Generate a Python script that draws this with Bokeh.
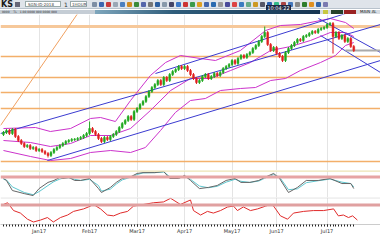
import numpy as np
from bokeh.plotting import figure
from bokeh.layouts import column
from bokeh.models import Div, Span, FixedTicker, Range1d, Grid, ColumnDataSource
from bokeh.embed import file_html
from bokeh.resources import INLINE

# ---------------- data ----------------
closes = [38, 40, 37, 41, 34, 30, 27, 24, 25, 22, 23, 20, 21, 19, 17, 15, 18, 21, 23, 25,
          27, 29, 30, 31, 31, 32, 33, 35, 37, 42, 39, 36, 32, 29, 33, 31, 34, 36, 39, 43,
          47, 50, 54, 51, 59, 62, 66, 69, 74, 79, 83, 86, 90, 86, 93, 90, 96, 99, 101, 104,
          102, 104, 100, 96, 92, 88, 90, 94, 96, 92, 94, 97, 95, 98, 102, 104, 106, 110, 107, 112,
          115, 113, 116, 118, 122, 125, 129, 134, 138, 126, 120, 123, 117, 114, 110, 118, 122, 125, 128, 131,
          130, 134, 135, 137, 139, 138, 141, 142, 143, 146, 147, 134, 138, 132, 135, 129, 132, 124, 120]
first_open = 36
extra_high = {29: 49, 88: 144}
extra_low = {15: 13, 111: 117}

band_upper_x = [0, 10.8, 15.8, 22.6, 29.3, 32.7, 37.7, 42.8, 49.5, 54.6, 59.6, 66.4, 71.4, 79.8, 88.3, 93.3, 100, 110.1, 115.2, 118]
band_upper = [42, 43, 39, 42, 52, 53, 49, 70, 95, 108, 115, 112, 110, 120, 140, 145, 146, 152, 148, 142]
band_mid_x = [0, 9.1, 15.8, 22.6, 29.3, 36.1, 42.8, 49.5, 56.3, 63.0, 69.7, 76.5, 83.2, 90.0, 96.7, 103.4, 110.1, 115.2, 118]
band_mid = [30, 28, 24, 27, 35, 35, 42, 60, 80, 92, 92, 100, 108, 120, 124, 130, 138, 138, 134]
band_lower_x = [0, 9.1, 15.8, 22.6, 29.3, 36.1, 42.8, 47.8, 52.9, 57.9, 63.0, 68.0, 73.1, 79.8, 84.9, 90.0, 95.0, 100.0, 106.8, 111.8, 115.2, 118]
band_lower = [20, 14, 10, 12, 18, 20, 18, 23, 40, 58, 70, 72, 80, 82, 83, 90, 92, 100, 108, 115, 125, 128]

levels = [114, 93, 78, 62, 9]
top_level = 144

trend_x = [[51.2, 127], [-1, 127], [14.8, 127], [106.1, 127], [106.8, 127]]
trend_y = [[97, 168], [37, 146], [10, 110], [152, 118], [135, 98]]
fan_x = [-1, 25]
fan_y = [45, 157]
mark_x = [115.2, 127]
mark_y = [120, 120]

stoch_x = [0, 1, 3, 7, 10, 12, 15, 17, 19, 20, 22, 24, 26, 29, 32, 33, 36, 38, 40, 43, 45, 47, 51, 54,
           56, 59, 61, 63, 66, 69, 72, 75, 78, 80, 83, 86, 88, 91, 93, 96, 99, 102, 106, 110, 114, 117, 118]
stoch_k = [75, 68, 32, 21, 14, 39, 61, 68, 79, 75, 79, 68, 68, 75, 39, 25, 43, 61, 75, 82, 93, 96, 96, 100,
           75, 75, 86, 68, 39, 43, 50, 68, 75, 61, 61, 68, 79, 93, 75, 25, 43, 68, 68, 75, 57, 57, 39]
stoch_d = [72, 70, 45, 25, 17, 28, 50, 64, 73, 76, 77, 72, 68, 72, 50, 30, 37, 55, 70, 80, 89, 95, 96, 98,
           82, 76, 82, 72, 48, 42, 47, 62, 72, 65, 61, 66, 76, 89, 80, 35, 38, 60, 67, 73, 62, 57, 45]

rsi_x = [0, 0.0, 1.4, 3.4, 5.7, 8.1, 10.1, 12.5, 14.8, 16.8, 19.2, 21.6, 23.6, 27.0, 29.3, 30.3, 32.7, 35.0, 37.1,
         39.4, 41.8, 43.8, 47.2, 50.5, 53.9, 56.3, 59.6, 63.0, 64.0, 66.4, 68.7, 70.7, 73.1, 75.5, 77.5, 78.8,
         80.8, 83.2, 85.6, 88.3, 89.9, 91.0, 93.3, 95.7, 97.7, 101.1, 104.4, 107.8, 111.2, 112.8, 114.5, 116.2,
         117.6, 119.2]
rsi_v = [72, 72, 78, 50, 41, 19, 9, 16, 25, 9, 25, 34, 47, 56, 66, 72, 56, 34, 31, 41, 47, 66, 72, 78, 81,
         94, 72, 88, 50, 34, 47, 41, 50, 63, 66, 50, 63, 50, 56, 66, 72, 66, 31, 19, 41, 47, 50, 50, 56, 31,
         34, 25, 31, 16]
rsi_x = rsi_x[1:]
rsi_v = rsi_v[1:]

month_ticks = [12, 29, 45, 61, 77, 92, 109]
month_labels = ["Jan17", "Feb17", "Mar17", "Apr17", "May17", "Jun17", "Jul17"]

# ---------------- derived candle table ----------------
opens = [first_open] + closes[:-1]
idx = list(range(len(closes)))
highs = [max(o, c) + 1.5 for o, c in zip(opens, closes)]
lows = [min(o, c) - 1.5 for o, c in zip(opens, closes)]
for k, v in extra_high.items():
    highs[k] = v
for k, v in extra_low.items():
    lows[k] = v
UP, DOWN = "#1fa81f", "#e02020"
colors = [UP if c >= o else DOWN for o, c in zip(opens, closes)]
tops = [max(o, c) if abs(c - o) > 0.4 else max(o, c) + 0.4 for o, c in zip(opens, closes)]
bots = [min(o, c) for o, c in zip(opens, closes)]
src = ColumnDataSource(dict(x=idx, hi=highs, lo=lows, top=tops, bot=bots, col=colors))

XR = (-1, 127)
W = 380
month_ticker = FixedTicker(ticks=month_ticks)


def base(height, yr):
    p = figure(width=W, height=height, x_range=Range1d(*XR), y_range=Range1d(*yr),
               toolbar_location=None, output_backend="svg", x_axis_location=None,
               y_axis_location=None, min_border=0)
    p.grid.visible = False
    p.outline_line_color = None
    p.background_fill_color = "white"
    p.border_fill_color = "white"
    p.add_layout(Grid(dimension=0, ticker=month_ticker, grid_line_color="#e4e4e4", grid_line_width=1))
    return p


# ---------------- toolbar ----------------
icons = ["#7d8ea4", "#3a66b0", "#c83a3a", "#9aa7b5", "#4a7fc0", "#d08a20", "#3a8a3a", "#5566aa", "#777",
         "#2d5fa0", "#8899aa", "#446", "#3c78c8", "#c33", "#3a9a4a", "#e0a020", "#4466aa", "#2a6ab0",
         "#999", "#4a4a9a", "#d44", "#3a7ac0", "#6a8", "#cc9922", "#556", "#2a5fb0", "#3b8", "#aa4444",
         "#4477bb", "#888", "#2d7d2d", "#e09020", "#3366aa", "#7a7ab0"]
icon_html = "".join(
    f'<span style="position:absolute;left:{92 + 7 * i}px;top:2px;width:5px;height:5px;background:{c};border-radius:1px"></span>'
    for i, c in enumerate(icons))
toolbar = Div(width=W, height=14, margin=0, text=f'''
<div style="position:relative;width:380px;height:14px;overflow:hidden;font-family:'DejaVu Sans',sans-serif;">
 <div style="position:absolute;left:0;top:0;width:380px;height:9px;background:#dfe4ea;border-bottom:1px solid #b8c2cc"></div>
 <span style="position:absolute;left:1px;top:0px;font-size:8px;line-height:9px;font-weight:bold;color:#1a1a1a">KS</span>
 <span style="position:absolute;left:15px;top:2px;width:5px;height:5px;background:#667"></span>
 <span style="position:absolute;left:25px;top:1px;width:36px;height:6px;background:#fff;border:1px solid #9aa;font-size:4px;line-height:6px;color:#444;padding-left:2px">SGN-ID-2018</span>
 <span style="position:absolute;left:64px;top:1px;font-size:6px;line-height:7px;color:#333">1</span>
 <span style="position:absolute;left:70px;top:1px;width:17px;height:6px;background:#fff;border:1px solid #9aa;font-size:4px;line-height:6px;color:#444;padding-left:1px">1HOUR</span>
 {icon_html}
 <span style="position:absolute;left:266px;top:5px;width:25px;height:6px;background:#1d2742;color:#fff;font-size:5px;line-height:6px;text-align:center">10:04:22</span>
 <div style="position:absolute;left:0;top:10px;width:95px;height:4px;background:#c5cdd5;font-size:3px;line-height:4px;color:#333;white-space:nowrap">&nbsp;&nbsp;0000&nbsp;&nbsp;&nbsp;&nbsp;TL&nbsp;&nbsp;&nbsp;1.00&nbsp;0000&nbsp;000&nbsp;0000&nbsp;000</div>
 <div style="position:absolute;left:95px;top:10px;width:225px;height:4px;background:linear-gradient(to right,#7ea6bc,#2f5d7b 35%,#173552)"></div>
 <div style="position:absolute;left:320px;top:10px;width:60px;height:4px;background:#d6dce2"></div>
 <span style="position:absolute;left:323px;top:10px;width:5px;height:4px;background:#c8c840"></span>
 <span style="position:absolute;left:331px;top:10px;width:12px;height:4px;background:#24402a"></span>
 <span style="position:absolute;left:344px;top:10px;width:12px;height:4px;background:#9a2222"></span>
 <span style="position:absolute;left:360px;top:10px;font-size:4px;line-height:4px;color:#222">MAIN AL</span>
</div>''')

# ---------------- main price chart ----------------
pm = base(156, (0, 156))
pm.line(x=list(XR), y=[top_level, top_level], line_color="#f6c89a", line_width=3)
for lv in levels:
    pm.line(x=list(XR), y=[lv, lv], line_color="#f2a65a", line_width=1.5, line_alpha=0.9)
pm.line(x=fan_x, y=fan_y, line_color="#f0a060", line_width=1)
pm.line(x=band_upper_x, y=band_upper, line_color="#cc33cc", line_width=1)
pm.line(x=band_mid_x, y=band_mid, line_color="#cc33cc", line_width=1)
pm.line(x=band_lower_x, y=band_lower, line_color="#cc33cc", line_width=1)
pm.multi_line(xs=trend_x, ys=trend_y, line_color="#3b3bd0", line_width=1)
pm.line(x=mark_x, y=mark_y, line_color="#aaaaaa", line_width=2)
pm.segment(x0="x", y0="lo", x1="x", y1="hi", color="col", line_width=1, source=src)
pm.vbar(x="x", width=0.62, top="top", bottom="bot", fill_color="col", line_color="col", line_width=0.5, source=src)

# ---------------- stochastic panel ----------------
ps = base(27, (7.1, 103.6))
ps.add_layout(Span(location=102.5, dimension="width", line_color="#ece4b4", line_width=2))
ps.add_layout(Span(location=80, dimension="width", line_color="#e6a4a4", line_width=3))
ps.line(x=stoch_x, y=stoch_d, line_color="#60c8d0", line_width=1)
ps.line(x=stoch_x, y=stoch_k, line_color="#666666", line_width=1)

# ---------------- RSI panel ----------------
pr = figure(width=W, height=39, x_range=ps.x_range, y_range=Range1d(0, 96.9),
            toolbar_location=None, output_backend="svg", y_axis_location=None, min_border=0)
pr.x_range = Range1d(*XR)
pr.grid.visible = False
pr.outline_line_color = None
pr.add_layout(Grid(dimension=0, ticker=month_ticker, grid_line_color="#e4e4e4"))
pr.add_layout(Span(location=95.5, dimension="width", line_color="#d8d8d8", line_width=1))
pr.add_layout(Span(location=70, dimension="width", line_color="#e0a0a0", line_width=3))
pr.line(x=rsi_x, y=rsi_v, line_color="#e02a2a", line_width=1)
ax = pr.xaxis[0]
ax.ticker = FixedTicker(ticks=month_ticks, minor_ticks=idx)
ax.major_label_overrides = {t: l for t, l in zip(month_ticks, month_labels)}
ax.major_label_text_font_size = "5px"
ax.major_label_text_font = "DejaVu Sans"
ax.major_label_text_color = "#333333"
ax.major_label_standoff = 1
ax.axis_line_color = "#cccccc"
ax.major_tick_out = 2
ax.major_tick_in = 0
ax.minor_tick_out = 2
ax.minor_tick_in = 0
ax.minor_tick_line_color = "#222222"
ax.major_tick_line_color = "#222222"

footer = Div(width=W, height=4, margin=0,
             text='<div style="width:380px;height:4px;background:#d9dde2"></div>')

layout = column(toolbar, pm, ps, pr, footer, spacing=0)
open("out.html", "w").write(file_html(layout, INLINE))
